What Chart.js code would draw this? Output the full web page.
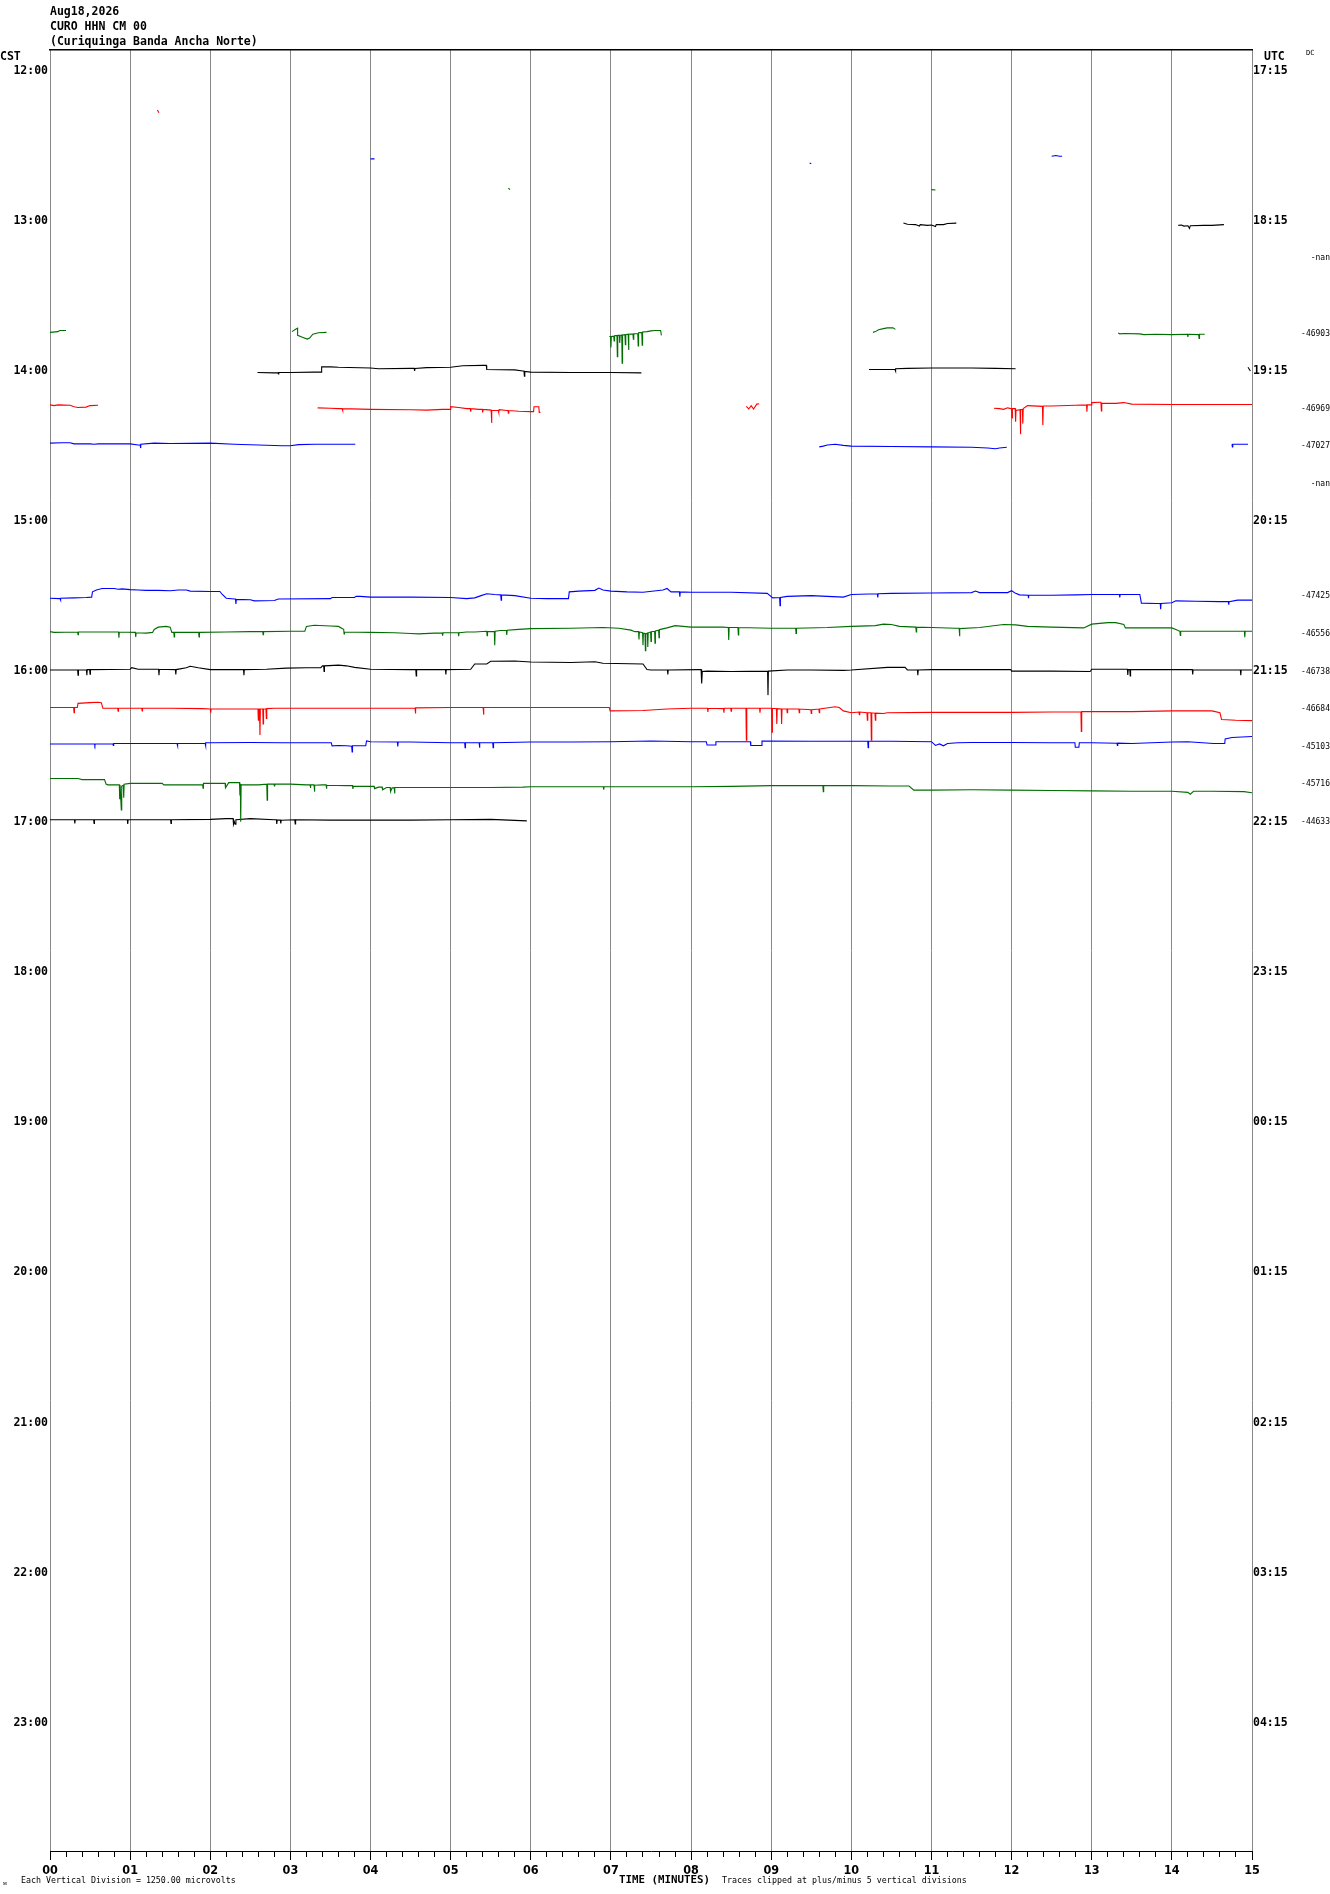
<!DOCTYPE html>
<html><head><meta charset="utf-8">
<script src="https://cdn.jsdelivr.net/npm/chart.js@4.4.1/dist/chart.umd.min.js"></script>
<style>html,body{margin:0;padding:0;background:#fff;}canvas{display:block;}</style>
</head><body>
<canvas id="c" width="1330" height="1894"></canvas>
<script>
// ---------- labels ----------
const headerLines = ['Aug18,2026', 'CURO HHN CM 00', '(Curiquinga Banda Ancha Norte)'];
const cstLabels = ['12:00','13:00','14:00','15:00','16:00','17:00','18:00','19:00','20:00','21:00','22:00','23:00'];
const utcLabels = ['17:15','18:15','19:15','20:15','21:15','22:15','23:15','00:15','01:15','02:15','03:15','04:15'];
const minuteLabels = ['00','01','02','03','04','05','06','07','08','09','10','11','12','13','14','15'];
const valueLabelRows = [5, 7, 9, 10, 11, 14, 15, 16, 17, 18, 19, 20];
const valueLabels = ['-nan','-46903','-46969','-47027','-nan','-47425','-46556','-46738','-46684','-45103','-45716','-44633'];
const traceColors = ['#000000', '#ff0000', '#0000ff', '#006e00'];

// ---------- traces: [minute, deflection in trace-rows], null = gap ----------
const r01 = [[1.34,0.05],[1.36,0.12]];
const r02 = [[4.0,0.35],[4.05,0.35],null,[9.48,0.46],[9.5,0.48],null,[12.5,0.28],[12.55,0.26],[12.6,0.28],[12.63,0.28]];
const r03 = [[5.72,0.13],[5.74,0.17],null,[11.0,0.17],[11.05,0.18]];
const r04 = [[10.65,0.06],[10.7,0.09],[10.8,0.1],[10.85,0.14],[10.86,0.1],[10.95,0.12],[11.0,0.11],[11.05,0.15],[11.06,0.1],[11.15,0.1],[11.2,0.07],[11.31,0.06],null,
  [14.08,0.12],[14.12,0.11],[14.15,0.14],[14.2,0.13],[14.22,0.2],[14.23,0.13],[14.4,0.12],[14.5,0.12],[14.65,0.1]];
const r07 = [[0,-0.03],[0.1,-0.05],[0.12,-0.08],[0.2,-0.08],null,
  [3.02,-0.05],[3.07,-0.12],[3.09,-0.14],[3.09,0.05],[3.15,0.1],[3.21,0.15],[3.24,0.12],[3.28,0.02],[3.35,-0.02],[3.45,-0.03],null,
  [6.98,0.08],[6.995,0.08],[7.0,0.37],[7.005,0.08],[7.035,0.07],[7.04,0.2],[7.045,0.06],[7.075,0.05],[7.08,0.62],[7.085,0.05],[7.105,0.05],[7.11,0.25],[7.115,0.05],[7.135,0.04],[7.14,0.79],[7.145,0.04],[7.175,0.03],[7.18,0.3],[7.185,0.03],[7.215,0.02],[7.22,0.44],[7.225,0.02],[7.275,0.01],[7.28,0.15],[7.285,0.01],[7.335,0.0],[7.34,0.33],[7.345,-0.02],[7.385,-0.03],[7.39,0.31],[7.395,-0.04],[7.45,-0.05],[7.5,-0.07],[7.55,-0.08],[7.62,-0.08],[7.63,0.05],null,
  [10.27,-0.03],[10.3,-0.05],[10.34,-0.1],[10.4,-0.13],[10.45,-0.15],[10.52,-0.15],[10.55,-0.11],null,
  [13.33,-0.01],[13.35,0.01],[13.4,0.0],[13.6,0.01],[13.65,0.03],[13.8,0.02],[14.0,0.03],[14.195,0.02],[14.2,0.09],[14.205,0.02],[14.335,0.03],[14.34,0.13],[14.345,0.02],[14.41,0.02]];
const r08 = [[2.59,0.04],[2.8,0.05],[2.845,0.05],[2.85,0.08],[2.855,0.04],[3.0,0.04],[3.3,0.03],[3.385,0.03],[3.39,-0.11],[3.5,-0.11],[3.6,-0.1],[4.0,-0.08],[4.1,-0.06],[4.5,-0.07],[4.545,-0.07],[4.55,0.0],[4.555,-0.07],[4.7,-0.09],[5.0,-0.1],[5.15,-0.14],[5.4,-0.15],[5.445,-0.15],[5.45,-0.04],[5.8,-0.03],[5.9,0.0],[5.915,0.0],[5.92,0.14],[5.925,0.01],[6.0,0.03],[6.5,0.04],[7.0,0.04],[7.38,0.05],null,
  [10.22,-0.04],[10.5,-0.04],[10.545,-0.04],[10.55,0.0],[10.555,-0.06],[10.7,-0.07],[11.0,-0.08],[11.5,-0.08],[11.8,-0.07],[12.05,-0.06],null,
  [14.95,-0.1],[14.98,0.0]];
const r09 = [[0,-0.1],[0.05,-0.08],[0.1,-0.1],[0.25,-0.09],[0.3,-0.05],[0.35,-0.03],[0.45,-0.04],[0.5,-0.08],[0.6,-0.09],null,
  [3.34,-0.02],[3.5,-0.01],[3.6,0.0],[3.645,0.0],[3.65,0.05],[3.655,0.0],[4.0,0.02],[4.5,0.03],[4.7,0.04],[4.9,0.02],[4.995,0.02],[5.0,-0.05],[5.1,-0.03],[5.2,0.0],[5.245,0.0],[5.25,0.08],[5.255,0.0],[5.35,0.02],[5.395,0.02],[5.4,0.1],[5.405,0.02],[5.505,0.04],[5.51,0.38],[5.515,0.05],[5.595,0.05],[5.6,0.1],[5.605,0.03],[5.7,0.05],[5.715,0.05],[5.72,0.12],[5.725,0.05],[5.85,0.07],[6.0,0.08],[6.035,0.08],[6.04,-0.05],[6.1,-0.05],[6.105,0.1],[6.12,0.1],null,
  [8.69,-0.06],[8.72,0.01],[8.75,-0.08],[8.78,0.01],[8.82,-0.12],[8.85,-0.13],null,
  [11.78,-0.01],[11.85,0.0],[11.9,0.02],[11.95,-0.02],[12.0,0.0],[12.005,0.25],[12.01,0.0],[12.045,0.0],[12.05,0.35],[12.055,0.05],[12.105,0.03],[12.11,0.68],[12.115,0.03],[12.135,0.02],[12.14,0.4],[12.145,0.0],[12.2,-0.08],[12.385,-0.06],[12.39,0.44],[12.395,-0.07],[12.5,-0.07],[12.8,-0.09],[12.935,-0.1],[12.94,0.08],[12.945,-0.1],[12.995,-0.1],[13.0,-0.16],[13.1,-0.17],[13.115,-0.17],[13.12,0.06],[13.125,-0.14],[13.3,-0.14],[13.4,-0.16],[13.5,-0.12],[14.0,-0.11],[14.5,-0.11],[15.0,-0.11]];
const r10 = [[0,-0.08],[0.15,-0.09],[0.25,-0.09],[0.3,-0.06],[0.5,-0.06],[0.55,-0.05],[0.6,-0.06],[1.0,-0.06],[1.1,-0.03],[1.125,-0.03],[1.13,0.05],[1.135,-0.05],[1.3,-0.08],[1.5,-0.07],[2.0,-0.08],[2.3,-0.05],[2.6,-0.03],[2.9,-0.01],[3.0,-0.01],[3.1,-0.04],[3.3,-0.05],[3.5,-0.05],[3.81,-0.05],null,
  [9.6,0.02],[9.65,0.0],[9.7,-0.03],[9.8,-0.05],[9.9,-0.02],[10.0,0.0],[10.5,0.01],[11.0,0.02],[11.5,0.03],[11.7,0.05],[11.8,0.07],[11.85,0.05],[11.94,0.03],null,
  [14.75,-0.05],[14.755,0.02],[14.76,-0.05],[14.95,-0.05]];
const r14 = [[0,0.05],[0.125,0.06],[0.13,0.1],[0.135,0.05],[0.3,0.04],[0.45,0.03],[0.52,0.02],[0.53,-0.12],[0.58,-0.17],[0.65,-0.21],[0.8,-0.21],[0.85,-0.19],[0.9,-0.2],[1.0,-0.18],[1.1,-0.17],[1.2,-0.16],[1.35,-0.16],[1.5,-0.15],[1.6,-0.17],[1.7,-0.17],[1.75,-0.14],[2.0,-0.13],[2.12,-0.13],[2.15,-0.05],[2.2,0.05],[2.3,0.07],[2.315,0.07],[2.32,0.2],[2.325,0.08],[2.5,0.09],[2.55,0.12],[2.8,0.11],[2.85,0.07],[3.5,0.06],[3.52,0.03],[3.8,0.03],[3.82,0.0],[3.87,0.0],[4.0,0.02],[4.5,0.02],[5.0,0.03],[5.2,0.06],[5.3,0.04],[5.38,-0.02],[5.45,-0.07],[5.55,-0.05],[5.625,-0.04],[5.63,0.1],[5.635,-0.04],[5.8,-0.02],[6.0,0.05],[6.2,0.06],[6.47,0.06],[6.48,-0.12],[6.6,-0.14],[6.8,-0.16],[6.85,-0.22],[6.9,-0.17],[7.0,-0.14],[7.2,-0.12],[7.4,-0.11],[7.65,-0.17],[7.7,-0.21],[7.75,-0.12],[7.855,-0.12],[7.86,0.01],[7.865,-0.12],[8.0,-0.11],[8.5,-0.11],[8.95,-0.08],[9.02,0.04],[9.105,0.03],[9.11,0.25],[9.115,0.03],[9.2,0.0],[9.5,-0.02],[9.9,0.02],[10.0,-0.05],[10.325,-0.07],[10.33,0.03],[10.335,-0.07],[10.5,-0.08],[11.0,-0.09],[11.5,-0.1],[11.55,-0.14],[11.6,-0.1],[11.95,-0.1],[12.0,-0.15],[12.05,-0.08],[12.1,-0.04],[12.205,-0.03],[12.21,0.05],[12.215,-0.03],[12.5,-0.03],[12.8,-0.04],[13.0,-0.05],[13.345,-0.05],[13.35,0.03],[13.355,-0.05],[13.6,-0.05],[13.62,0.18],[13.8,0.19],[13.855,0.19],[13.86,0.34],[13.865,0.19],[14.0,0.17],[14.05,0.12],[14.3,0.13],[14.6,0.14],[14.705,0.14],[14.71,0.22],[14.715,0.14],[14.82,0.1],[15.0,0.1]];
const r15 = [[0,-0.06],[0.05,-0.04],[0.345,-0.05],[0.35,0.02],[0.355,-0.05],[0.855,-0.05],[0.86,0.1],[0.865,-0.05],[1.065,-0.04],[1.07,0.08],[1.075,-0.03],[1.2,-0.02],[1.28,-0.04],[1.3,-0.12],[1.35,-0.18],[1.45,-0.2],[1.5,-0.18],[1.52,-0.04],[1.545,-0.04],[1.55,0.08],[1.555,-0.04],[1.855,-0.04],[1.86,0.08],[1.865,-0.04],[2.2,-0.05],[2.5,-0.06],[2.655,-0.06],[2.66,0.02],[2.665,-0.06],[3.0,-0.07],[3.18,-0.07],[3.2,-0.2],[3.3,-0.23],[3.5,-0.21],[3.6,-0.2],[3.65,-0.14],[3.665,-0.12],[3.67,0.0],[3.675,-0.05],[4.0,-0.04],[4.3,-0.03],[4.5,-0.01],[4.6,0.0],[4.8,-0.02],[4.895,-0.02],[4.9,0.05],[4.905,-0.03],[5.095,-0.03],[5.1,0.06],[5.105,-0.03],[5.2,-0.05],[5.3,-0.05],[5.45,-0.07],[5.455,0.05],[5.46,-0.06],[5.545,-0.06],[5.55,0.3],[5.555,-0.07],[5.62,-0.09],[5.695,-0.09],[5.7,0.03],[5.705,-0.1],[5.85,-0.12],[6.0,-0.14],[6.5,-0.15],[6.9,-0.17],[7.1,-0.15],[7.25,-0.1],[7.3,-0.06],[7.345,-0.06],[7.35,0.15],[7.355,-0.05],[7.395,-0.03],[7.4,0.3],[7.405,-0.02],[7.425,-0.01],[7.43,0.45],[7.435,0.0],[7.455,-0.02],[7.46,0.35],[7.465,-0.03],[7.495,-0.05],[7.5,0.2],[7.505,-0.06],[7.545,-0.07],[7.55,0.25],[7.555,-0.08],[7.595,-0.1],[7.6,0.1],[7.605,-0.11],[7.62,-0.12],[7.7,-0.16],[7.8,-0.22],[8.0,-0.18],[8.4,-0.18],[8.465,-0.17],[8.47,0.16],[8.475,-0.17],[8.585,-0.17],[8.59,0.03],[8.595,-0.17],[9.0,-0.15],[9.305,-0.15],[9.31,-0.01],[9.315,-0.15],[9.7,-0.17],[10.0,-0.2],[10.3,-0.22],[10.4,-0.26],[10.5,-0.25],[10.6,-0.2],[10.805,-0.18],[10.81,-0.05],[10.815,-0.18],[11.0,-0.17],[11.3,-0.15],[11.345,-0.15],[11.35,0.06],[11.355,-0.14],[11.6,-0.17],[11.9,-0.25],[12.05,-0.24],[12.2,-0.2],[12.5,-0.18],[12.9,-0.16],[13.0,-0.26],[13.2,-0.3],[13.3,-0.3],[13.4,-0.25],[13.42,-0.16],[13.5,-0.16],[14.0,-0.16],[14.05,-0.12],[14.1,-0.07],[14.105,0.04],[14.11,-0.07],[14.5,-0.07],[14.905,-0.07],[14.91,0.09],[14.915,-0.07],[15.0,-0.07]];
const r16 = [[0,-0.04],[0.345,-0.04],[0.35,0.1],[0.355,-0.04],[0.455,-0.04],[0.46,0.1],[0.465,-0.05],[0.495,-0.05],[0.5,0.07],[0.505,-0.05],[1.0,-0.06],[1.02,-0.1],[1.1,-0.06],[1.355,-0.06],[1.36,0.1],[1.365,-0.06],[1.565,-0.05],[1.57,0.08],[1.575,-0.05],[1.7,-0.1],[1.75,-0.14],[1.85,-0.1],[2.0,-0.05],[2.415,-0.05],[2.42,0.1],[2.425,-0.05],[2.7,-0.06],[2.95,-0.09],[3.2,-0.1],[3.38,-0.1],[3.4,-0.15],[3.415,-0.15],[3.42,0.0],[3.425,-0.15],[3.6,-0.17],[3.7,-0.15],[3.8,-0.11],[4.0,-0.06],[4.5,-0.05],[4.565,-0.05],[4.57,0.12],[4.575,-0.05],[4.935,-0.05],[4.94,0.08],[4.945,-0.05],[5.25,-0.06],[5.3,-0.2],[5.45,-0.2],[5.5,-0.27],[5.8,-0.28],[6.0,-0.25],[6.5,-0.24],[6.8,-0.26],[6.9,-0.22],[7.4,-0.2],[7.45,-0.05],[7.5,-0.04],[7.705,-0.04],[7.71,0.08],[7.715,-0.04],[8.1,-0.05],[8.125,-0.05],[8.13,0.08],[8.135,0.32],[8.14,0.0],[8.2,-0.01],[8.5,0.0],[8.955,-0.01],[8.96,0.63],[8.965,-0.01],[9.2,-0.04],[9.5,-0.04],[9.9,-0.03],[10.0,-0.04],[10.45,-0.11],[10.67,-0.11],[10.7,-0.04],[10.825,-0.04],[10.83,0.1],[10.835,-0.04],[11.0,-0.05],[11.5,-0.05],[11.99,-0.05],[12.0,-0.01],[12.5,-0.01],[12.98,0.0],[13.0,-0.06],[13.3,-0.06],[13.445,-0.06],[13.45,0.09],[13.455,-0.05],[13.475,-0.05],[13.48,0.12],[13.485,-0.05],[14.0,-0.05],[14.255,-0.05],[14.26,0.08],[14.265,-0.04],[14.855,-0.04],[14.86,0.1],[14.865,-0.04],[15.0,-0.04]];
const r17 = [[0,-0.04],[0.295,-0.04],[0.3,0.1],[0.305,-0.04],[0.34,-0.04],[0.35,-0.15],[0.5,-0.17],[0.6,-0.18],[0.64,-0.17],[0.66,-0.02],[0.845,-0.02],[0.85,0.06],[0.855,-0.02],[1.145,-0.02],[1.15,0.05],[1.155,-0.02],[1.5,-0.02],[1.9,-0.01],[2.0,0.0],[2.005,0.1],[2.01,0.0],[2.595,0.0],[2.6,0.3],[2.605,0.0],[2.615,0.0],[2.62,0.69],[2.625,0.0],[2.655,0.0],[2.66,0.4],[2.665,0.0],[2.695,0.0],[2.7,0.25],[2.705,-0.01],[2.8,-0.02],[3.5,-0.02],[4.0,-0.02],[4.555,-0.02],[4.56,0.12],[4.565,-0.03],[5.0,-0.04],[5.405,-0.04],[5.41,0.15],[5.415,-0.04],[6.0,-0.04],[6.5,-0.04],[6.98,-0.04],[6.99,0.05],[7.4,0.04],[7.7,0.0],[8.0,-0.02],[8.205,-0.02],[8.21,0.08],[8.215,-0.02],[8.405,-0.01],[8.41,0.1],[8.415,-0.02],[8.495,-0.02],[8.5,0.06],[8.505,-0.02],[8.685,-0.02],[8.69,0.83],[8.695,-0.02],[8.855,-0.02],[8.86,0.1],[8.865,-0.02],[9.005,-0.02],[9.01,0.62],[9.015,-0.02],[9.065,-0.01],[9.07,0.4],[9.075,-0.01],[9.125,0.0],[9.13,0.4],[9.135,0.0],[9.195,0.0],[9.2,0.1],[9.205,0.0],[9.345,0.0],[9.35,0.1],[9.355,0.0],[9.495,0.02],[9.5,0.12],[9.505,0.02],[9.595,0.0],[9.6,0.1],[9.605,0.0],[9.8,-0.06],[9.85,-0.04],[9.9,0.05],[10.0,0.1],[10.095,0.08],[10.1,0.15],[10.105,0.08],[10.195,0.1],[10.2,0.3],[10.205,0.1],[10.245,0.1],[10.25,0.83],[10.255,0.1],[10.295,0.11],[10.3,0.3],[10.305,0.11],[10.4,0.12],[10.45,0.1],[11.0,0.09],[11.5,0.09],[12.0,0.09],[12.5,0.08],[12.865,0.08],[12.87,0.6],[12.875,0.07],[13.0,0.07],[13.5,0.07],[14.0,0.05],[14.5,0.05],[14.6,0.1],[14.62,0.28],[14.8,0.3],[15.0,0.31]];
const r18 = [[0,-0.07],[0.555,-0.07],[0.56,-0.03],[0.565,-0.07],[0.785,-0.07],[0.79,-0.03],[0.795,-0.08],[1.0,-0.08],[1.5,-0.08],[1.585,-0.08],[1.59,-0.02],[1.595,-0.08],[1.935,-0.09],[1.94,-0.02],[1.945,-0.1],[2.0,-0.1],[2.5,-0.11],[2.9,-0.1],[3.0,-0.1],[3.3,-0.1],[3.51,-0.1],[3.52,-0.02],[3.6,-0.03],[3.7,-0.02],[3.765,-0.01],[3.77,0.14],[3.775,-0.02],[3.94,-0.02],[3.95,-0.15],[4.0,-0.13],[4.335,-0.12],[4.34,0.0],[4.345,-0.12],[4.5,-0.12],[5.0,-0.1],[5.175,-0.1],[5.18,0.03],[5.185,-0.1],[5.355,-0.1],[5.36,0.03],[5.365,-0.1],[5.525,-0.1],[5.53,0.03],[5.535,-0.1],[6.0,-0.12],[6.5,-0.12],[7.0,-0.13],[7.5,-0.15],[8.0,-0.13],[8.19,-0.13],[8.2,-0.04],[8.3,-0.04],[8.31,-0.13],[8.74,-0.13],[8.745,-0.03],[8.88,-0.03],[8.885,-0.15],[9.5,-0.14],[10.0,-0.14],[10.205,-0.14],[10.21,0.03],[10.215,-0.14],[10.5,-0.14],[11.0,-0.13],[11.05,-0.03],[11.1,-0.07],[11.15,-0.02],[11.2,-0.08],[11.33,-0.1],[11.5,-0.11],[12.0,-0.11],[12.5,-0.1],[12.79,-0.1],[12.795,0.02],[12.84,0.02],[12.845,-0.1],[13.0,-0.1],[13.315,-0.09],[13.32,-0.03],[13.325,-0.09],[13.5,-0.08],[14.0,-0.12],[14.2,-0.13],[14.52,-0.08],[14.66,-0.08],[14.665,-0.2],[14.75,-0.24],[15.0,-0.27]];
const r19 = [[0,-0.15],[0.35,-0.15],[0.4,-0.12],[0.68,-0.12],[0.7,0.0],[0.72,0.02],[0.865,0.02],[0.87,0.4],[0.875,0.03],[0.885,0.03],[0.89,0.69],[0.895,0.05],[0.915,0.03],[0.92,0.36],[0.925,0.0],[1.0,-0.02],[1.2,-0.02],[1.4,-0.02],[1.42,0.02],[1.905,0.02],[1.91,0.11],[1.915,-0.02],[2.185,-0.02],[2.19,0.1],[2.23,-0.04],[2.365,-0.04],[2.37,0.3],[2.375,0.0],[2.38,1.0],[2.385,0.02],[2.6,0.02],[2.705,0.0],[2.71,0.43],[2.715,0.0],[2.795,0.0],[2.8,0.05],[2.805,0.0],[3.0,0.0],[3.2,0.02],[3.245,0.02],[3.25,0.1],[3.255,0.02],[3.295,0.02],[3.3,0.2],[3.305,0.03],[3.4,0.02],[3.445,0.02],[3.45,0.12],[3.455,0.03],[3.7,0.04],[3.775,0.04],[3.78,0.13],[3.785,0.06],[4.0,0.06],[4.045,0.06],[4.05,0.12],[4.1,0.08],[4.145,0.08],[4.15,0.15],[4.2,0.09],[4.245,0.09],[4.25,0.2],[4.27,0.1],[4.295,0.1],[4.3,0.25],[4.305,0.09],[5.0,0.09],[5.5,0.09],[5.9,0.08],[6.0,0.07],[6.5,0.07],[6.905,0.07],[6.91,0.15],[6.915,0.07],[7.5,0.07],[8.0,0.07],[8.5,0.06],[9.0,0.04],[9.5,0.04],[9.645,0.04],[9.65,0.2],[9.655,0.04],[10.0,0.04],[10.5,0.05],[10.72,0.05],[10.78,0.16],[11.0,0.16],[11.5,0.15],[12.0,0.16],[12.5,0.17],[13.0,0.18],[13.5,0.19],[14.0,0.19],[14.2,0.22],[14.23,0.27],[14.27,0.19],[14.5,0.19],[14.9,0.2],[15.0,0.23]];
const r20 = [[0,-0.05],[0.305,-0.05],[0.31,0.05],[0.315,-0.05],[0.545,-0.05],[0.55,0.05],[0.555,-0.05],[0.965,-0.05],[0.97,0.06],[0.975,-0.05],[1.505,-0.05],[1.51,0.05],[1.515,-0.05],[2.0,-0.06],[2.2,-0.08],[2.285,-0.08],[2.29,0.07],[2.3,0.0],[2.31,0.07],[2.32,-0.05],[2.5,-0.08],[2.8,-0.05],[2.825,-0.05],[2.83,0.06],[2.835,-0.04],[2.875,-0.04],[2.88,0.05],[2.885,-0.04],[3.055,-0.05],[3.06,0.06],[3.065,-0.05],[3.5,-0.04],[4.0,-0.04],[4.5,-0.04],[5.0,-0.05],[5.5,-0.06],[5.95,-0.02]];

const traceRows = [1, 2, 3, 4, 7, 8, 9, 10, 14, 15, 16, 17, 18, 19, 20];
const traceData = [r01, r02, r03, r04, r07, r08, r09, r10, r14, r15, r16, r17, r18, r19, r20];

const hourRows = cstLabels.map((_, i) => i * 4);
const minuteTicks = Array.from({length: 76}, (_, i) => i / 5); // 5 subdivisions per minute
const ROW_MIN = -0.549, ROW_MAX = 47.41;

const datasets = traceData.map((pts, k) => {
  const row = traceRows[k];
  let lastX = 0;
  const data = pts.map(p => {
    if (p === null) return {x: lastX, y: null};
    lastX = p[0];
    return {x: p[0], y: row + p[1]};
  });
  return {
    data, borderColor: traceColors[row % 4], backgroundColor: traceColors[row % 4],
    borderWidth: 1.1, pointRadius: 0, tension: 0, spanGaps: false, fill: false
  };
});

const MONO = '"DejaVu Sans Mono", monospace';
const textPlugin = {
  id: 'heliText',
  afterDraw(chart) {
    const ctx = chart.ctx;
    ctx.save();
    ctx.fillStyle = '#000';
    ctx.textBaseline = 'middle';
    ctx.textAlign = 'left';
    ctx.font = 'bold 11.5px ' + MONO;
    headerLines.forEach((t, i) => ctx.fillText(t, 50, 12 + i * 15));
    ctx.fillText('CST', 0, 57);
    ctx.fillText('UTC', 1264, 57);
    ctx.font = '7px ' + MONO;
    ctx.fillText('DC', 1306, 53);
    ctx.font = '8.3px ' + MONO;
    ctx.fillText('Each Vertical Division = 1250.00 microvolts', 21, 1881);
    ctx.fillText('Traces clipped at plus/minus 5 vertical divisions', 722, 1881);
    ctx.font = 'bold 10.8px ' + MONO;
    ctx.fillText('TIME (MINUTES)', 619, 1880);
    ctx.font = '6px ' + MONO;
    ctx.fillText('\u1D0D', 3, 1883);
    ctx.restore();
  }
};

const setTicks = (vals) => (scale) => { scale.ticks = vals.map(v => ({value: v})); };
const isMajor = (c) => c.index % 5 === 0;

new Chart(document.getElementById('c'), {
  type: 'line',
  data: {datasets},
  plugins: [textPlugin],
  options: {
    responsive: false,
    devicePixelRatio: 1,
    animation: false,
    events: [],
    layout: {padding: {top: 50, bottom: 0, left: 0, right: 0}},
    plugins: {legend: {display: false}, tooltip: {enabled: false}, title: {display: false}},
    scales: {
      x: {
        type: 'linear', position: 'bottom', min: 0, max: 15,
        afterBuildTicks: setTicks(minuteTicks),
        afterFit: (s) => { s.height = 43; },
        ticks: {autoSkip: false, maxRotation: 0, minRotation: 0, padding: 3, color: '#000',
          font: {family: '"Liberation Sans Narrow", "DejaVu Sans Condensed", sans-serif', size: 12.5, weight: 'bold'},
          callback: (v, i) => (i % 5 === 0 ? minuteLabels[i / 5] : '')},
        grid: {
          color: (c) => (isMajor(c) ? '#888888' : 'rgba(0,0,0,0)'),
          lineWidth: 1, tickColor: '#000000', tickLength: 9, tickWidth: 1, drawTicks: true,
          tickBorderDash: (c) => (isMajor(c) ? [] : [5, 20])
        },
        border: {display: true, color: '#000000', width: 1}
      },
      xt: {
        type: 'linear', position: 'top', min: 0, max: 15,
        afterFit: (s) => { s.height = 0; },
        ticks: {display: false},
        grid: {display: false, drawTicks: false},
        border: {display: true, color: '#000000', width: 1.5}
      },
      y: {
        type: 'linear', position: 'left', min: ROW_MIN, max: ROW_MAX, reverse: true,
        afterBuildTicks: setTicks(hourRows),
        afterFit: (s) => { s.width = 50; },
        ticks: {autoSkip: false, padding: 2, color: '#000', font: {family: MONO, size: 11.5, weight: 'bold'},
          callback: (v, i) => cstLabels[i]},
        grid: {display: false, drawTicks: false},
        border: {display: false}
      },
      y2: {
        type: 'linear', position: 'right', min: ROW_MIN, max: ROW_MAX, reverse: true,
        afterBuildTicks: setTicks(hourRows),
        afterFit: (s) => { s.width = 46; },
        ticks: {autoSkip: false, padding: 1, color: '#000', font: {family: MONO, size: 11.5, weight: 'bold'},
          callback: (v, i) => utcLabels[i]},
        grid: {display: false, drawTicks: false},
        border: {display: false}
      },
      y3: {
        type: 'linear', position: 'right', min: ROW_MIN, max: ROW_MAX, reverse: true,
        afterBuildTicks: setTicks(valueLabelRows),
        afterFit: (s) => { s.width = 32; },
        ticks: {autoSkip: false, padding: 1, crossAlign: 'far', color: '#000', font: {family: MONO, size: 8},
          callback: (v, i) => valueLabels[i]},
        grid: {display: false, drawTicks: false},
        border: {display: false}
      }
    }
  }
});
</script>
</body></html>
